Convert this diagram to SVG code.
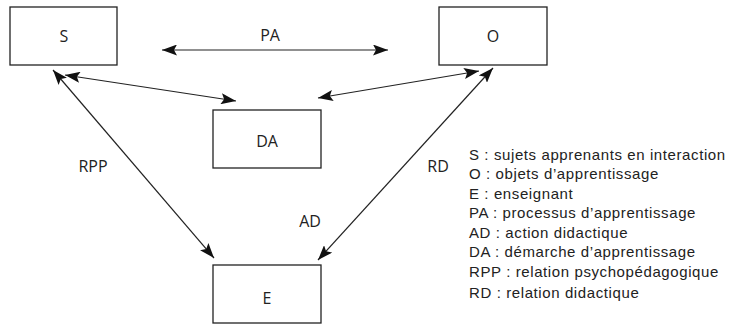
<svg xmlns="http://www.w3.org/2000/svg" width="738" height="324" viewBox="0 0 738 324">
<style>
.box{fill:#fff;stroke:#222;stroke-width:1.3}
.lbl{font-family:"Open Sans","Liberation Sans",sans-serif;font-size:16px;fill:#222;text-anchor:middle}
.leg{font-family:"Liberation Sans",Arial,sans-serif;font-size:15px;letter-spacing:0.6px;fill:#222}
.con{stroke:#222;stroke-width:1.2;fill:none;marker-start:url(#ah);marker-end:url(#ah)}
</style>
<defs>
<marker id="ah" viewBox="0 0 15 11" refX="15" refY="5.5" markerWidth="15" markerHeight="11" markerUnits="userSpaceOnUse" orient="auto-start-reverse">
<path d="M0,0 L15,5.5 L0,11 L3,5.5 Z" fill="#111"/>
</marker>
</defs>
<rect width="738" height="324" fill="#fff"/>
<g id="connectors">
<line class="con" x1="162" y1="50" x2="388" y2="50"/>
<line class="con" x1="65" y1="75" x2="236" y2="101"/>
<line class="con" x1="318" y1="98" x2="479" y2="71"/>
<line class="con" x1="53" y1="70" x2="214" y2="258"/>
<line class="con" x1="493" y1="68" x2="318" y2="260"/>
<text class="lbl" x="270" y="41">PA</text>
<text class="lbl" x="93" y="172">RPP</text>
<text class="lbl" x="438" y="172">RD</text>
<text class="lbl" x="310" y="227">AD</text>
</g>
<g id="node-S"><rect class="box" x="10" y="7" width="107" height="58"/><text class="lbl" x="64" y="42">S</text></g>
<g id="node-O"><rect class="box" x="439" y="7" width="108" height="58"/><text class="lbl" x="493" y="42">O</text></g>
<g id="node-DA"><rect class="box" x="213" y="110" width="108" height="58"/><text class="lbl" x="267" y="147">DA</text></g>
<g id="node-E"><rect class="box" x="213" y="265" width="108" height="58"/><text class="lbl" x="267" y="304">E</text></g>
<g id="legend">
<text class="leg" x="469" y="160">S : sujets apprenants en interaction</text>
<text class="leg" x="469" y="179">O : objets d’apprentissage</text>
<text class="leg" x="469" y="199">E : enseignant</text>
<text class="leg" x="469" y="218">PA : processus d’apprentissage</text>
<text class="leg" x="469" y="238">AD : action didactique</text>
<text class="leg" x="469" y="257">DA : démarche d’apprentissage</text>
<text class="leg" x="469" y="277">RPP : relation psychopédagogique</text>
<text class="leg" x="469" y="298">RD : relation didactique</text>
</g>
</svg>
